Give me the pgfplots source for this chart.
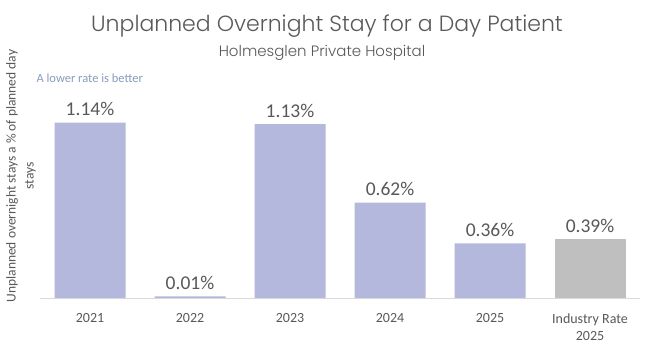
\documentclass[border=0pt]{standalone}
\usepackage{fontspec}
\setmainfont{Carlito}
\newfontfamily\titlefont{Poppins}[UprightFont=* Light]
\usepackage{pgfplots}
\pgfplotsset{compat=1.18}
\definecolor{barblue}{HTML}{B4B8DD}
\definecolor{bargray}{HTML}{BFBFBF}
\definecolor{txt}{HTML}{595959}
\definecolor{note}{HTML}{8A9CBE}
\begin{document}
\begin{tikzpicture}[x=1pt,y=1pt]
\useasboundingbox (0,0) rectangle (655,353);
\fill[white] (0,0) rectangle (655,353);
\node[text=txt,font=\titlefont\fontsize{22}{26}\selectfont] at (327,327) {Unplanned Overnight Stay for a Day Patient};
\node[text=txt,font=\titlefont\fontsize{15}{18}\selectfont] at (322,300) {Holmesglen Private Hospital};
\node[text=note,font=\fontsize{12.5}{15}\selectfont,anchor=west] at (33,275) {A lower rate is better};
\node[text=txt,font=\fontsize{13.5}{18}\selectfont,rotate=90,align=center] at (21,177) {Unplanned overnight stays a \% of planned day\\stays};
\begin{axis}[
  at={(40pt,55pt)}, anchor=south west,
  scale only axis, width=600pt, height=203pt,
  xmin=-0.5, xmax=5.5, ymin=0, ymax=1.32,
  axis x line*=bottom, axis y line=none,
  x axis line style={draw=black!15, line width=0.8pt},
  xtick={0,1,2,3,4,5}, xtick style={draw=none},
  xticklabels={2021,2022,2023,2024,2025,{Industry Rate\\2025}},
  xticklabel style={align=center, text=txt, font=\fontsize{14}{17}\selectfont, yshift=-8pt},
  ytick=\empty,
  ybar, bar width=71pt, bar shift=0pt,
  /pgf/number format/assume math mode=true,
  nodes near coords={\pgfmathprintnumber[fixed,precision=2,fixed zerofill]{\pgfplotspointmeta}\%},
  every node near coord/.append style={text=txt, font=\fontsize{19.5}{22}\selectfont, yshift=3pt},
]
\addplot[fill=barblue, draw=none] coordinates {(0,1.14) (1,0.01) (2,1.13) (3,0.62) (4,0.355)};
\addplot[fill=bargray, draw=none] coordinates {(5,0.385)};
\end{axis}
\end{tikzpicture}
\end{document}
